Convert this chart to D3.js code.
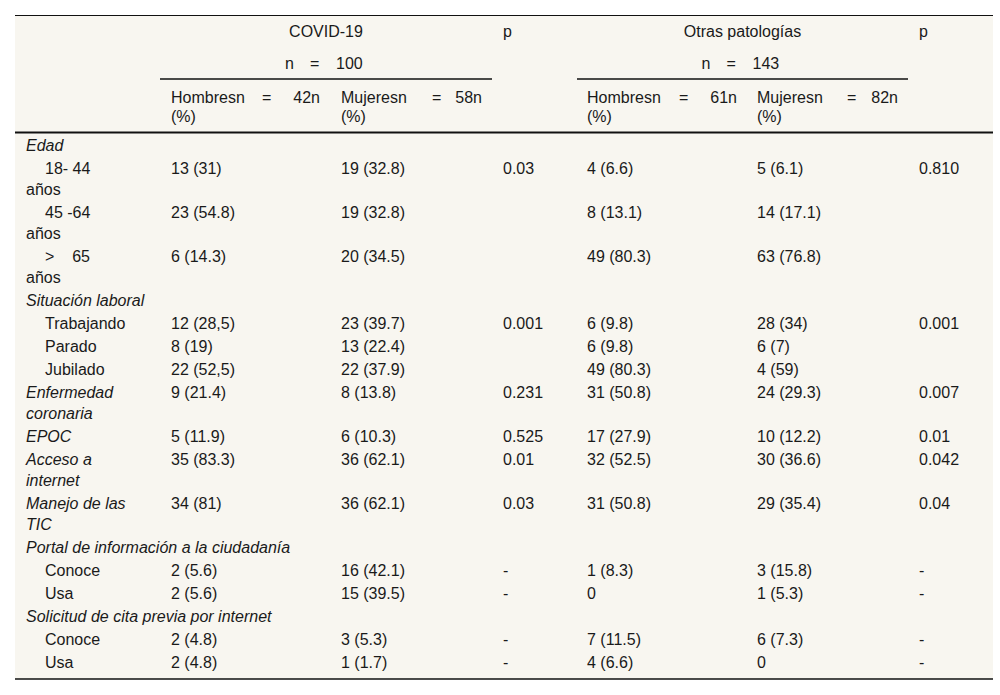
<!DOCTYPE html>
<html>
<head>
<meta charset="utf-8">
<script src="https://cdn.jsdelivr.net/npm/d3@7"></script>
<style>
  html, body { margin: 0; padding: 0; background: #ffffff; }
  text { font-family: "Liberation Sans", Arial, Helvetica, sans-serif; font-size: 16px; fill: #1a1a1a; white-space: pre; }
</style>
</head>
<body>
<svg id="chart" width="1000" height="695"></svg>
<script>
// ---------- DATA ----------
const groupTitles = ["COVID-19", "Otras patologías"];
const groupN = ["100", "143"];
const subHeaders = [["Hombresn", "=", "42n"], ["Mujeresn", "=", "58n"], ["Hombresn", "=", "61n"], ["Mujeresn", "=", "82n"]];
const pHeader = "p";

const rowLabels = [
  "Edad", "18- 44|años", "45 -64|años", ">    65|años",
  "Situación laboral", "Trabajando", "Parado", "Jubilado",
  "Enfermedad|coronaria", "EPOC", "Acceso a|internet", "Manejo de las|TIC",
  "Portal de información a la ciudadanía", "Conoce", "Usa",
  "Solicitud de cita previa por internet", "Conoce", "Usa"
];
const rowIsSub = [false, true, true, true, false, true, true, true, false, false, false, false, false, true, true, false, true, true];

const covidMen   = ["", "13 (31)", "23 (54.8)", "6 (14.3)", "", "12 (28,5)", "8 (19)", "22 (52,5)", "9 (21.4)", "5 (11.9)", "35 (83.3)", "34 (81)", "", "2 (5.6)", "2 (5.6)", "", "2 (4.8)", "2 (4.8)"];
const covidWomen = ["", "19 (32.8)", "19 (32.8)", "20 (34.5)", "", "23 (39.7)", "13 (22.4)", "22 (37.9)", "8 (13.8)", "6 (10.3)", "36 (62.1)", "36 (62.1)", "", "16 (42.1)", "15 (39.5)", "", "3 (5.3)", "1 (1.7)"];
const pCovid     = ["", "0.03", "", "", "", "0.001", "", "", "0.231", "0.525", "0.01", "0.03", "", "-", "-", "", "-", "-"];
const otherMen   = ["", "4 (6.6)", "8 (13.1)", "49 (80.3)", "", "6 (9.8)", "6 (9.8)", "49 (80.3)", "31 (50.8)", "17 (27.9)", "32 (52.5)", "31 (50.8)", "", "1 (8.3)", "0", "", "7 (11.5)", "4 (6.6)"];
const otherWomen = ["", "5 (6.1)", "14 (17.1)", "63 (76.8)", "", "28 (34)", "6 (7)", "4 (59)", "24 (29.3)", "10 (12.2)", "30 (36.6)", "29 (35.4)", "", "3 (15.8)", "1 (5.3)", "", "6 (7.3)", "0"];
const pOther     = ["", "0.810", "", "", "", "0.001", "", "", "0.007", "0.01", "0.042", "0.04", "", "-", "-", "", "-", "-"];

// ---------- LAYOUT ----------
const svg = d3.select("#chart");
const tLeft = 15, tRight = 993, tTop = 15, tBottom = 679;

// column x positions (text start)
const colKeys = ["label", "cm", "cw", "pc", "om", "ow", "po"];
const colX = d3.scaleOrdinal().domain(colKeys).range([26, 171, 341, 503, 587, 757, 919]);
const subIndent = 45;

// row y positions: row heights depend on number of lines
const lineGap = 21, baseRow = 23, bodyTop = 133.5;
const rowLines = rowLabels.map(l => l.split("|").length);
const rowTops = [];
let acc = bodyTop;
rowLines.forEach(n => { rowTops.push(acc); acc += baseRow + lineGap * (n - 1); });
const rowY = d3.scaleOrdinal().domain(d3.range(rowLabels.length)).range(rowTops.map(t => t + 11.5));

// background
svg.append("rect").attr("x", tLeft).attr("y", tTop).attr("width", tRight - tLeft).attr("height", tBottom - tTop).attr("fill", "#f8f6f0");

// rules
function hline(x1, x2, y, w) {
  svg.append("line").attr("x1", x1).attr("x2", x2).attr("y1", y).attr("y2", y)
    .attr("stroke", "#111").attr("stroke-width", w);
}
hline(tLeft, tRight, tTop + 0.5, 1);
hline(160, 492, 79, 1.5);
hline(577, 908, 79, 1.5);
hline(tLeft, tRight, 132.5, 2);
hline(tLeft, tRight, tBottom, 1.5);

function txt(x, y, s, opts = {}) {
  const t = svg.append("text").attr("x", x).attr("y", y).attr("dy", "0.35em").text(s);
  if (opts.anchor) t.attr("text-anchor", opts.anchor);
  if (opts.italic) t.attr("font-style", "italic");
  return t;
}

// ---------- HEADER ----------
const groupCenter = [326, 742.5];
groupTitles.forEach((g, i) => txt(groupCenter[i], 31.5, g, { anchor: "middle" }));
txt(colX("pc"), 31.5, pHeader);
txt(colX("po"), 31.5, pHeader);

// n = ... (justified pieces around the group centre)
groupN.forEach((n, i) => {
  const c = groupCenter[i];
  txt(c - 41, 63, "n");
  txt(c - 16, 63, "=");
  txt(c + 10, 63, n);
});

// sub headers: first word at left, "=" in between, last word flush right
const subCols = ["cm", "cw", "om", "ow"];
const subEq = [262, 432, 679, 847];
const subRight = [320, 482, 737, 898];
subHeaders.forEach((words, i) => {
  const x0 = colX(subCols[i]);
  txt(x0, 97, words[0]);
  txt(subEq[i], 97, words[1]);
  txt(subRight[i], 97, words[2], { anchor: "end" });
  txt(x0, 116, "(%)");
});

// ---------- BODY ----------
rowLabels.forEach((lab, i) => {
  const lines = lab.split("|");
  lines.forEach((ln, j) => {
    const x = (rowIsSub[i] && j === 0) ? subIndent : colX("label");
    txt(x, rowY(i) + j * lineGap, ln, { italic: !rowIsSub[i] });
  });
});

const cols = [["cm", covidMen], ["cw", covidWomen], ["pc", pCovid], ["om", otherMen], ["ow", otherWomen], ["po", pOther]];
cols.forEach(([key, arr]) => {
  svg.append("g").selectAll("text").data(arr).join("text")
    .attr("x", colX(key))
    .attr("y", (d, i) => rowY(i))
    .attr("dy", "0.35em")
    .text(d => d);
});
</script>
</body>
</html>
